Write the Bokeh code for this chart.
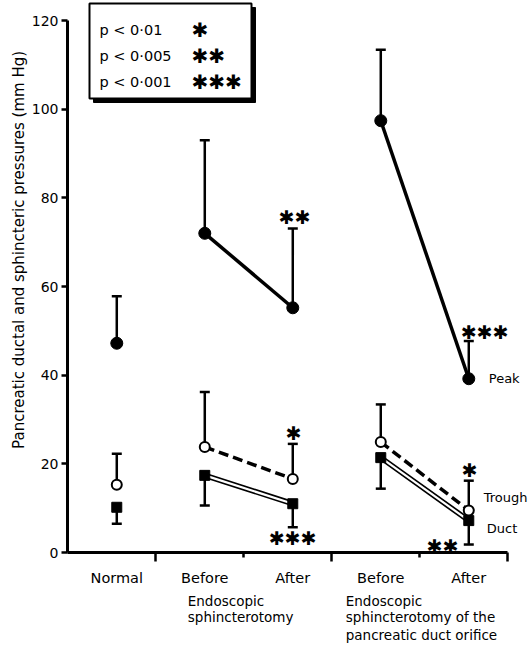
import numpy as np
from bokeh.plotting import figure
from bokeh.models import Range1d, FixedTicker
from bokeh.core.properties import value
from bokeh.embed import file_html
from bokeh.resources import INLINE

# ---------------- data ----------------
categories = ["Normal", "Before", "After", "Before", "After"]
peak = [47.2, 72.0, 55.2, 97.4, 39.2]
peak_upper = [57.8, 93.0, 73.1, 113.4, 47.7]
trough = [15.3, 23.8, 16.6, 24.9, 9.5]
trough_upper = [22.3, 36.2, 24.5, 33.4, 16.2]
duct = [10.2, 17.4, 11.0, 21.4, 7.2]
duct_lower = [6.5, 10.6, 5.7, 14.4, 1.8]
group_titles = [["Endoscopic", "sphincterotomy"],
                ["Endoscopic", "sphincterotomy of the", "pancreatic duct orifice"]]
group_members = [[1, 2], [3, 4]]
y_ticks = [0, 20, 40, 60, 80, 100, 120]
sig_levels = ["p < 0·01", "p < 0·005", "p < 0·001"]
sig_stars = ["✱", "✱✱", "✱✱✱"]
# significance marks: (category index, series, number of stars)
sig_marks = [(2, "peak", 2), (2, "trough", 1), (2, "duct", 3),
             (4, "peak", 3), (4, "trough", 1), (4, "duct", 2)]
series_labels = ["Peak", "Trough", "Duct"]
y_title = "Pancreatic ductal and sphincteric pressures  (mm Hg)"

# ---------------- layout ----------------
W, H = 529, 645
X0, Y0 = 67, 552          # pixel position of the data origin
PX_X = 88.0               # px per category unit
PX_Y = 532.0 / 120.0      # px per mm Hg
dx = 1.0 / PX_X
dy = 1.0 / PX_Y


def px(x, y):
    """canvas pixel -> data coordinates (layout helper for decorations)"""
    return (x - X0) * dx, (Y0 - y) * dy


xs = [i + 0.56 for i in range(len(categories))]
FONT = "DejaVu Sans"

p = figure(width=W, height=H, output_backend="svg", toolbar_location=None,
           x_range=Range1d(-X0 * dx, (W - X0) * dx),
           y_range=Range1d((Y0 - H) * dy, Y0 * dy),
           min_border_left=0, min_border_right=0, min_border_top=0,
           min_border_bottom=0)
p.outline_line_color = None
p.grid.visible = False
p.background_fill_color = "white"
p.border_fill_color = "white"

# axes (drawn at the data origin inside the frame)
p.xaxis.fixed_location = 0
p.yaxis.fixed_location = 0
p.xaxis.ticker = FixedTicker(ticks=[1, 3, 5], minor_ticks=[2, 4])
p.xaxis.major_label_overrides = {1: "", 3: "", 5: ""}
p.xaxis.major_label_text_font_size = "1px"
p.xaxis.major_tick_out = 9
p.xaxis.major_tick_in = 0
p.xaxis.minor_tick_out = 5
p.xaxis.minor_tick_in = 0
p.xaxis.major_tick_line_width = 2.5
p.xaxis.minor_tick_line_width = 2.5
p.xaxis.axis_line_width = 3
p.xaxis.bounds = (0, 5)

p.yaxis.ticker = FixedTicker(ticks=y_ticks, minor_ticks=[])
p.yaxis.major_tick_out = 6
p.yaxis.major_tick_in = 0
p.yaxis.major_tick_line_width = 2.5
p.yaxis.axis_line_width = 3
p.yaxis.bounds = (0, 120)
p.yaxis.major_label_text_font = FONT
p.yaxis.major_label_text_font_size = "14px"
p.yaxis.major_label_text_color = "black"
p.yaxis.major_label_standoff = 3
for ax in (p.xaxis, p.yaxis):
    ax.axis_line_color = "black"
    ax.major_tick_line_color = "black"
    ax.minor_tick_line_color = "black"

# ---------------- connecting lines ----------------
for a, b in group_members:
    gx = [xs[a], xs[b]]
    p.line(gx, [peak[a], peak[b]], line_color="black", line_width=3.5)
    p.line(gx, [trough[a], trough[b]], line_color="black", line_width=3.5,
           line_dash="10 5")
    p.line(gx, [duct[a], duct[b]], line_color="black", line_width=5.5)
    p.line(gx, [duct[a], duct[b]], line_color="white", line_width=2.2)

# ---------------- error bars ----------------
p.segment(x0=xs, y0=peak, x1=xs, y1=peak_upper, line_color="black", line_width=2.5)
p.segment(x0=xs, y0=trough, x1=xs, y1=trough_upper, line_color="black", line_width=2.5)
p.segment(x0=xs, y0=duct, x1=xs, y1=duct_lower, line_color="black", line_width=2.5)
for ends in (peak_upper, trough_upper, duct_lower):
    p.scatter(xs, ends, marker="dash", size=10, line_color="black", line_width=2.5)

# ---------------- markers ----------------
p.scatter(xs, peak, marker="circle", size=12, fill_color="black", line_color="black")
p.scatter(xs, trough, marker="circle", size=10, fill_color="white",
          line_color="black", line_width=2)
p.scatter(xs, duct, marker="square", size=10, fill_color="black", line_color="black")

# ---------------- significance stars ----------------
series_ends = {"peak": peak_upper, "trough": trough_upper, "duct": duct_lower}
star_offsets = [(2, 11), (1, 11), (0, -11), (16, 9), (1, 11), (-26, -1)]
sx, sy, st = [], [], []
for (i, s, n), (ox, oy) in zip(sig_marks, star_offsets):
    sx.append(xs[i] + ox * dx)
    sy.append(series_ends[s][i] + oy * dy)
    st.append("✱" * n)
p.text(x=sx, y=sy, text=st, text_align="center", text_baseline="middle",
       text_font=value(FONT), text_font_size="19px", text_color="black")

# ---------------- series labels at right ----------------
last = len(categories) - 1
lab_vals = [peak[last], trough[last], duct[last]]
lab_offsets = [(20, 0), (15, 13), (18, -8)]
p.text(x=[xs[last] + o[0] * dx for o in lab_offsets],
       y=[v + o[1] * dy for v, o in zip(lab_vals, lab_offsets)],
       text=series_labels, text_align="left", text_baseline="middle",
       text_font=value(FONT), text_font_size="13px", text_color="black")

# ---------------- legend box ----------------
bx0, by1 = px(89, 3)
bx1, by0 = px(251, 98)
sdx, sdy = 4 * dx, 4 * dy
p.quad(left=bx0 + sdx, right=bx1 + sdx, top=by1 - sdy, bottom=by0 - sdy,
       fill_color="black", line_color="black")
p.quad(left=bx0, right=bx1, top=by1, bottom=by0, fill_color="white",
       line_color="black", line_width=2)
row_y = [px(0, r)[1] for r in (29, 55, 81)]
p.text(x=[px(99, 0)[0]] * 3, y=row_y, text=sig_levels, text_align="left",
       text_baseline="middle", text_font=value(FONT), text_font_size="14.5px",
       text_color="black")
p.text(x=[px(191, 0)[0]] * 3, y=row_y, text=sig_stars, text_align="left",
       text_baseline="middle", text_font=value(FONT), text_font_size="20px",
       text_color="black")

# ---------------- category & group labels ----------------
p.text(x=xs, y=[px(0, 577)[1]] * len(xs), text=categories, text_align="center",
       text_baseline="middle", text_font=value(FONT), text_font_size="14.5px",
       text_color="black")
group_left_px = [-17, -35]
line_rows = [600, 616, 634]
gx_, gy_, gt_ = [], [], []
for members, lines, off in zip(group_members, group_titles, group_left_px):
    for k, line in enumerate(lines):
        gx_.append(xs[members[0]] + off * dx)
        gy_.append(px(0, line_rows[k])[1])
        gt_.append(line)
p.text(x=gx_, y=gy_, text=gt_, text_align="left", text_baseline="middle",
       text_font=value(FONT), text_font_size="13.5px", text_color="black")

# ---------------- y title ----------------
tx, ty = px(18, 247)
p.text(x=[tx], y=[ty], text=[y_title], angle=np.pi / 2, text_align="center",
       text_baseline="middle", text_font=value(FONT), text_font_size="15px",
       text_color="black")

open("out.html", "w").write(file_html(p, INLINE))
